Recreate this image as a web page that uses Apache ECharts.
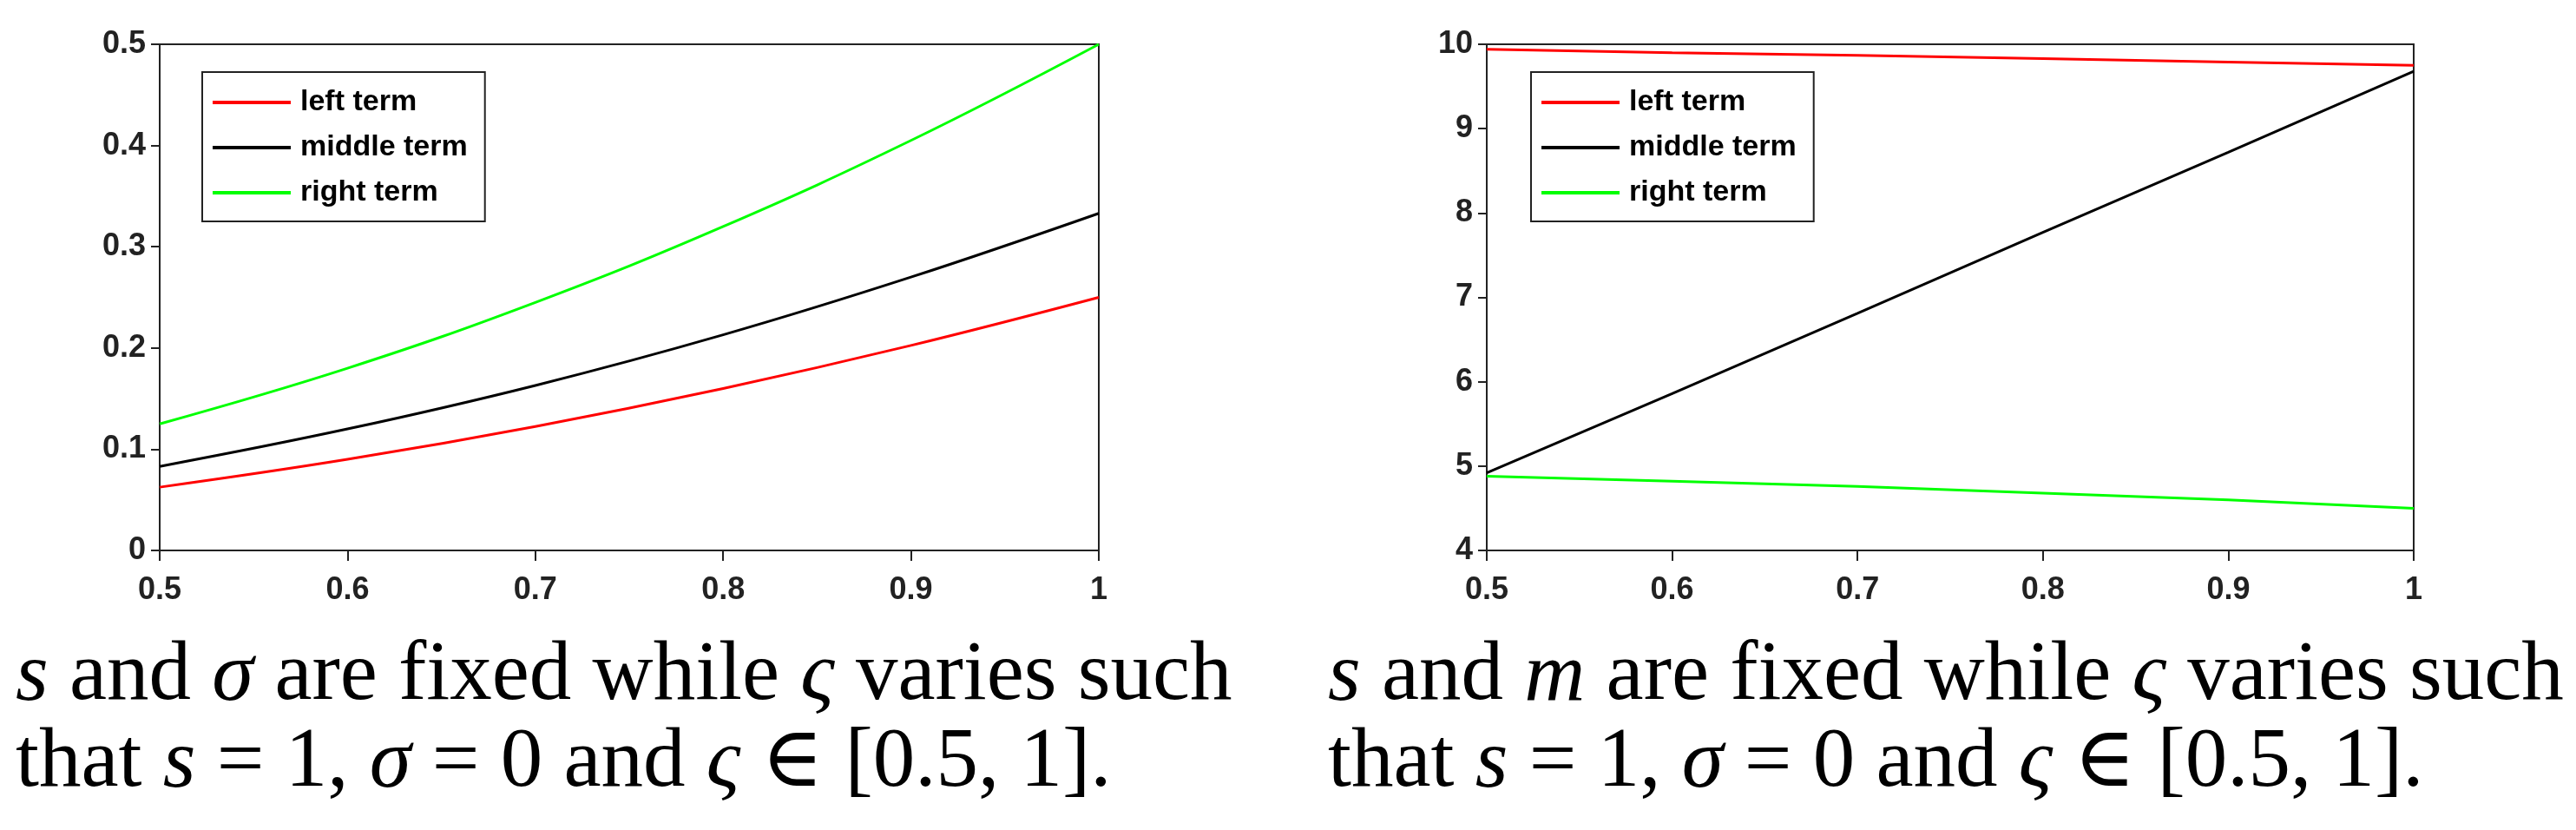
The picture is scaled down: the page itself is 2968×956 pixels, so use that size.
<!DOCTYPE html>
<html>
<head>
<meta charset="utf-8">
<script src="https://cdn.jsdelivr.net/npm/echarts@6/dist/echarts.min.js"></script>
<style>html,body{margin:0;padding:0;background:#fff}#c{width:2968px;height:956px}</style>
</head>
<body>
<div id="c"></div>
<script>
// varsigma sample points shared by both panels
const xs = [0.5, 0.6, 0.7, 0.8, 0.9, 1.0];

// left panel: s and sigma fixed
const leftA = [0.0625, 0.09, 0.1225, 0.16, 0.2025, 0.25];
const middleA = [0.083, 0.12, 0.163, 0.213, 0.27, 0.333];
const rightA = [0.125, 0.18, 0.245, 0.32, 0.405, 0.5];

// right panel: s and m fixed
const leftB = [9.94, 9.9, 9.87, 9.83, 9.79, 9.75];
const middleB = [4.92, 5.86, 6.81, 7.77, 8.72, 9.68];
const rightB = [4.88, 4.82, 4.76, 4.68, 4.6, 4.5];

const names = ["left term", "middle term", "right term"];
const colors = ["#ff0000", "#000000", "#00ff00"];

const tickFont = { fontFamily: "Liberation Sans Narrow, Liberation Sans", fontWeight: "bold", fontSize: 36, color: "#222" };

const pair = (ys) => xs.map((x, i) => [x, ys[i]]);

function xAxisFor(idx) {
  return {
    type: "value", gridIndex: idx, min: 0.5, max: 1, interval: 0.1,
    axisLine: { show: true, lineStyle: { color: "#222", width: 2 } },
    axisTick: { show: true, length: 12, lineStyle: { color: "#222", width: 2 } },
    splitLine: { show: false },
    axisLabel: { ...tickFont, margin: 28, formatter: (v) => (v === 1 ? "1" : v.toFixed(1)) },
  };
}

function yAxisFor(idx, min, max, interval, fmt) {
  return {
    type: "value", gridIndex: idx, min, max, interval,
    axisLine: { show: true, lineStyle: { color: "#222", width: 2 } },
    axisTick: { show: true, length: 10, lineStyle: { color: "#222", width: 2 } },
    splitLine: { show: false },
    axisLabel: { ...tickFont, margin: 16, formatter: fmt },
  };
}

const seriesA = [leftA, middleA, rightA];
const seriesB = [leftB, middleB, rightB];
const series = [];
seriesA.forEach((ys, i) => series.push({
  name: names[i], type: "line", xAxisIndex: 0, yAxisIndex: 0, data: pair(ys),
  smooth: 0.4, symbol: "none", lineStyle: { color: colors[i], width: 3 }, itemStyle: { color: colors[i] },
}));
seriesB.forEach((ys, i) => series.push({
  name: names[i], type: "line", xAxisIndex: 1, yAxisIndex: 1, data: pair(ys),
  symbol: "none", lineStyle: { color: colors[i], width: 3 }, itemStyle: { color: colors[i] },
}));

function legendAt(left) {
  return {
    left, top: 83, orient: "vertical", data: names,
    itemWidth: 90, itemHeight: 4, itemGap: 18, icon: "rect",
    padding: [18, 20, 16, 12], borderColor: "#222", borderWidth: 2, backgroundColor: "#fff",
    textStyle: { fontFamily: "Liberation Sans Narrow, Liberation Sans", fontWeight: "bold", fontSize: 34, color: "#000", padding: [0, 0, 0, 6] },
  };
}

const serif = "Liberation Serif, DejaVu Serif";
const rich = { n: { fontFamily: serif, fontSize: 97, color: "#000" }, i: { fontFamily: serif, fontSize: 97, fontStyle: "italic", color: "#000" } };

function caption(left, sym) {
  return {
    type: "text", left, top: 730,
    style: {
      text: "{i|s}{n| and }{i|" + sym + "}{n| are fixed while }{i|ς}{n| varies such}\n{n|that }{i|s}{n| = 1, }{i|σ}{n| = 0 and }{i|ς}{n| ∈ [0.5, 1].}",
      rich, lineHeight: 100,
    },
  };
}

const option = {
  backgroundColor: "#fff",
  animation: false,
  grid: [
    { left: 184, top: 51, width: 1082, height: 583, show: true, borderColor: "#222", borderWidth: 2 },
    { left: 1713, top: 51, width: 1068, height: 583, show: true, borderColor: "#222", borderWidth: 2 },
  ],
  xAxis: [xAxisFor(0), xAxisFor(1)],
  yAxis: [
    yAxisFor(0, 0, 0.5, 0.1, (v) => (v === 0 ? "0" : v.toFixed(1))),
    yAxisFor(1, 4, 10, 1, (v) => String(v)),
  ],
  legend: [legendAt(233), legendAt(1764)],
  series,
  graphic: [caption(18, "σ"), caption(1530, "m")],
};

const chart = echarts.init(document.getElementById("c"));
chart.setOption(option);
</script>
</body>
</html>
